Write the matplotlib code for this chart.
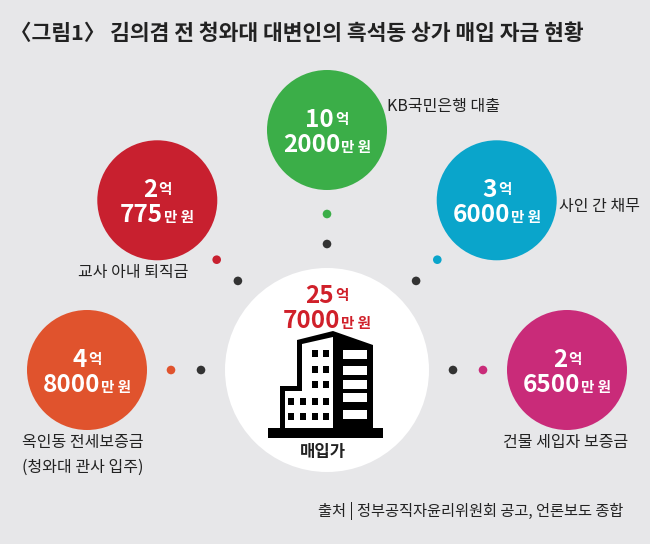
import numpy as np
import matplotlib.pyplot as plt
from matplotlib.patches import Circle, Polygon, Rectangle

plt.rcParams['font.family'] = ['Noto Sans CJK KR', 'DejaVu Sans']

# data
sources = ['옥인동 전세보증금\n(청와대 관사 입주)', '교사 아내 퇴직금', 'KB국민은행 대출',
           '사인 간 채무', '건물 세입자 보증금']
eok = [4, 2, 10, 3, 2]
man = [8000, 775, 2000, 6000, 6500]
colors = ['#e0532d', '#c8202f', '#3bae48', '#0aa5cb', '#c92b79']
total_eok = 25
total_man = 7000
title = '〈그림1〉 김의겸 전 청와대 대변인의 흑석동 상가 매입 자금 현황'
source_note = '출처 | 정부공직자윤리위원회 공고, 언론보도 종합'

bg = '#e7e7e9'
dark = '#222222'

fig = plt.figure(figsize=(6.5, 5.44), dpi=100)
fig.patch.set_facecolor(bg)
ax = fig.add_axes([0, 0, 1, 1])
ax.set_xlim(0, 650)
ax.set_ylim(544, 0)
ax.axis('off')
ren = fig.canvas.get_renderer()


def money_line(x, y, parts, color):
    # parts: (text, size, raise) pieces on one baseline, centred on x
    objs = []
    for s, size, up in parts:
        objs.append((ax.text(0, y - up, s, fontsize=size, weight='bold', color=color,
                             ha='left', va='baseline', zorder=6)))
    widths = [t.get_window_extent(ren).width for t in objs]
    cur = x - (sum(widths) + len(objs) - 1) / 2
    for t, w in zip(objs, widths):
        t.set_x(cur)
        cur += w + 1


def amount(x, y, e, m, color, d1=-3, d2=22):
    money_line(x, y + d1, [(str(e), 17.5, 0), ('억', 10.5, 3)], color)
    money_line(x, y + d2, [(str(m), 17.5, 0), ('만 원', 10.5, 0)], color)


ax.text(10, 33, title, fontsize=15.5, weight='bold', color=dark, ha='left', va='center')

# centre circle
cx, cy = 327, 370
ax.add_patch(Circle((cx, cy), 102, facecolor='white', edgecolor='none', zorder=2))

angles = np.radians([180, 135, 90, 45, 0])
for a, col, e, m in zip(angles, colors, eok, man):
    ux, uy = np.cos(a), -np.sin(a)
    px, py = cx + 240 * ux, cy + 240 * uy
    ax.add_patch(Circle((px, py), 60, facecolor=col, edgecolor='none', zorder=3))
    ax.add_patch(Circle((cx + 126 * ux, cy + 126 * uy), 4.3, facecolor='#333333',
                        edgecolor='none', zorder=3))
    ax.add_patch(Circle((cx + 156 * ux, cy + 156 * uy), 4.3, facecolor=col,
                        edgecolor='none', zorder=3))
    amount(px, py, e, m, 'white')

# source labels
lab_kw = dict(fontsize=11.5, color=dark, va='center')
l1, l2 = sources[0].split('\n')
ax.text(22, 443, l1, ha='left', **lab_kw)
ax.text(22, 467, l2, ha='left', **lab_kw)
ax.text(188, 272, sources[1], ha='right', **lab_kw)
ax.text(387, 107, sources[2], ha='left', **lab_kw)
ax.text(559, 206, sources[3], ha='left', **lab_kw)
ax.text(566, 443, sources[4], ha='center', **lab_kw)

# total
money_line(cx, 303, [(str(total_eok), 17.5, 0), ('억', 10.5, 3)], '#d0202a')
money_line(cx, 328, [(str(total_man), 17.5, 0), ('만 원', 10.5, 0)], '#d0202a')
ax.text(323, 452, '매입가', fontsize=12, weight='bold', color=dark, ha='center', va='center', zorder=6)

# building icon
k = dict(edgecolor='none', zorder=5)
ax.add_patch(Rectangle((268, 428), 115, 10, facecolor='black', **k))
ax.add_patch(Polygon([(280, 428), (280, 386), (297, 386), (297, 340), (333, 331),
                      (373, 345), (373, 428)], facecolor='black', **k))
ax.add_patch(Polygon([(285, 428), (285, 391), (302, 391), (302, 344), (333, 337),
                      (333, 428)], facecolor='white', **k))
for y0 in [350, 366, 381]:
    for x0 in [312, 323]:
        ax.add_patch(Rectangle((x0, y0), 6, 7, facecolor='black', **k))
for y0 in [398, 413]:
    for x0 in [288, 300, 312, 323]:
        ax.add_patch(Rectangle((x0, y0), 6, 7, facecolor='black', **k))
for y0 in [350, 366, 380, 393, 410]:
    ax.add_patch(Rectangle((343, y0), 24, 9, facecolor='white', **k))

ax.text(623, 511, source_note, fontsize=11, color=dark, ha='right', va='center')

fig.savefig('out.png', dpi=100, facecolor=bg)
